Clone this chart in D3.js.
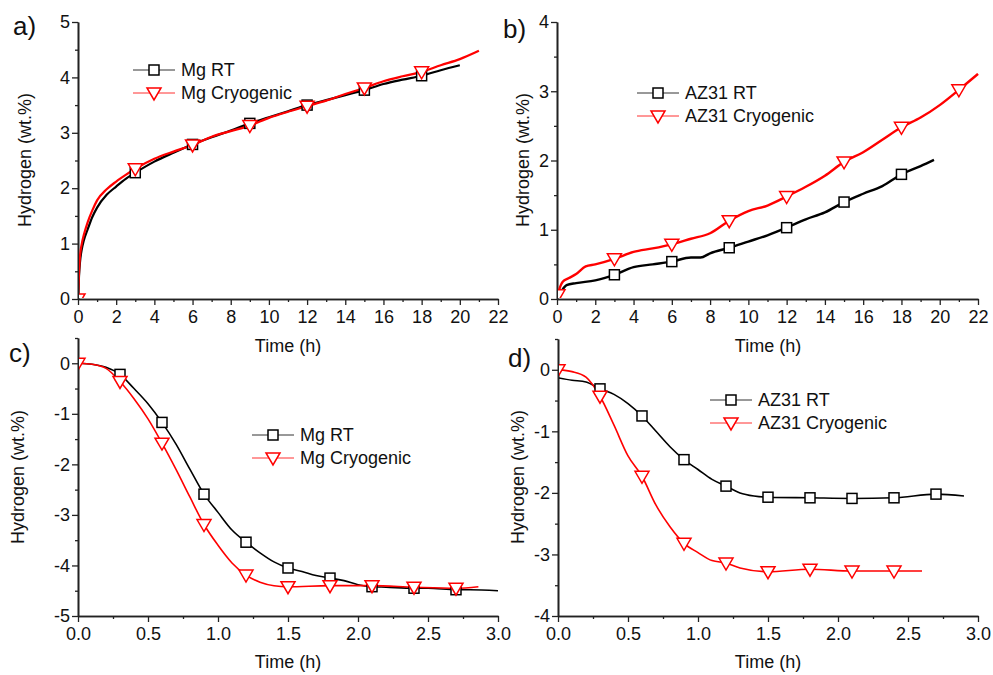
<!DOCTYPE html>
<html>
<head>
<meta charset="utf-8">
<script src="https://cdn.jsdelivr.net/npm/d3@7"></script>
<style>
  body { margin: 0; background: #fff; }
  svg { font-family: "Liberation Sans", Arial, sans-serif; }
</style>
</head>
<body>
<div id="chart"></div>
<script>
// ---- data ----
// a) Mg absorption
const aTime  = [0, 0.05, 0.1, 0.2, 0.3, 0.5, 0.75, 1, 1.5, 2, 2.5, 3, 4, 5, 6, 7, 8, 9, 10, 11, 12, 13, 14, 15, 16, 17, 18, 19, 20];
const aMgRT  = [0, 0.4, 0.65, 0.9, 1.05, 1.25, 1.48, 1.65, 1.88, 2.03, 2.17, 2.28, 2.48, 2.64, 2.79, 2.92, 3.04, 3.17, 3.28, 3.39, 3.5, 3.59, 3.68, 3.77, 3.88, 3.96, 4.03, 4.13, 4.22];
const aTimeCryo = [0, 0.05, 0.1, 0.2, 0.3, 0.5, 0.75, 1, 1.5, 2, 2.5, 3, 4, 5, 6, 7, 8, 9, 10, 11, 12, 13, 14, 15, 16, 17, 18, 19, 20, 21];
const aMgCryo = [0, 0.45, 0.75, 1.0, 1.15, 1.38, 1.6, 1.78, 1.98, 2.12, 2.24, 2.35, 2.53, 2.66, 2.78, 2.93, 3.03, 3.13, 3.27, 3.38, 3.48, 3.58, 3.7, 3.81, 3.93, 4.02, 4.1, 4.22, 4.33, 4.48];
const aMarkRT = [3, 6, 9, 12, 15, 18];
const aMarkCryo = [0, 3, 6, 9, 12, 15, 18];

// b) AZ31 absorption
const bTime = [0, 0.1, 0.2, 0.5, 1, 2, 3, 4, 5, 6, 7, 7.5, 8, 9, 10, 11, 12, 13, 14, 15, 16, 17, 18, 19, 19.7];
const bAzRT = [0, 0.06, 0.1, 0.2, 0.23, 0.27, 0.35, 0.46, 0.5, 0.54, 0.6, 0.6, 0.66, 0.74, 0.83, 0.92, 1.03, 1.15, 1.25, 1.4, 1.52, 1.63, 1.8, 1.92, 2.01];
const bTimeCryo = [0, 0.1, 0.3, 0.6, 1, 1.5, 2, 3, 4, 5, 6, 7, 8, 9, 10, 11, 12, 13, 14, 15, 16, 17, 18, 19, 20, 21, 22];
const bAzCryo = [0, 0.12, 0.25, 0.3, 0.36, 0.47, 0.5, 0.58, 0.68, 0.73, 0.79, 0.87, 0.95, 1.13, 1.27, 1.35, 1.48, 1.62, 1.78, 1.98, 2.12, 2.3, 2.48, 2.62, 2.8, 3.02, 3.25];
const bMarkRT = [3, 6, 9, 12, 15, 18];
const bMarkCryo = [0.05, 3, 6, 9, 12, 15, 18, 21];

// c) Mg desorption
const cTime  = [0, 0.1, 0.2, 0.3, 0.4, 0.5, 0.6, 0.7, 0.8, 0.9, 1.0, 1.1, 1.2, 1.3, 1.4, 1.5, 1.6, 1.7, 1.8, 1.9, 2.0, 2.1, 2.2, 2.4, 2.5, 2.7, 2.8, 3.0];
const cMgRT  = [0, -0.02, -0.08, -0.22, -0.5, -0.8, -1.17, -1.6, -2.1, -2.59, -2.95, -3.3, -3.54, -3.75, -3.93, -4.05, -4.12, -4.2, -4.25, -4.3, -4.38, -4.42, -4.43, -4.45, -4.45, -4.48, -4.48, -4.5];
const cTimeCryo = [0, 0.1, 0.2, 0.3, 0.4, 0.5, 0.6, 0.7, 0.8, 0.9, 1.0, 1.1, 1.2, 1.3, 1.4, 1.5, 1.8, 2.1, 2.4, 2.7, 2.86];
const cMgCryo = [0, -0.02, -0.1, -0.36, -0.7, -1.1, -1.58, -2.1, -2.65, -3.19, -3.6, -3.95, -4.19, -4.33, -4.4, -4.42, -4.4, -4.4, -4.43, -4.45, -4.42];
const cMarks = [0, 0.3, 0.6, 0.9, 1.2, 1.5, 1.8, 2.1, 2.4, 2.7];

// d) AZ31 desorption
const dTime  = [0, 0.1, 0.2, 0.3, 0.4, 0.5, 0.6, 0.7, 0.8, 0.9, 1.0, 1.1, 1.2, 1.3, 1.4, 1.5, 1.8, 2.1, 2.4, 2.7, 2.9];
const dAzRT  = [-0.13, -0.17, -0.2, -0.31, -0.4, -0.55, -0.75, -1.0, -1.25, -1.46, -1.62, -1.78, -1.89, -2.0, -2.05, -2.07, -2.08, -2.09, -2.08, -2.02, -2.05];
const dTimeCryo = [0, 0.1, 0.2, 0.3, 0.4, 0.5, 0.6, 0.7, 0.8, 0.9, 1.0, 1.1, 1.2, 1.3, 1.5, 1.8, 2.1, 2.4, 2.6];
const dAzCryo = [0, -0.03, -0.12, -0.43, -0.9, -1.4, -1.73, -2.2, -2.55, -2.82, -2.97, -3.1, -3.14, -3.22, -3.28, -3.24, -3.27, -3.27, -3.27];
const dMarkRT = [0.3, 0.6, 0.9, 1.2, 1.5, 1.8, 2.1, 2.4, 2.7];
const dMarkCryo = [0, 0.3, 0.6, 0.9, 1.2, 1.5, 1.8, 2.1, 2.4];

// ---- layout ----
const W = 993, H = 675;
const svg = d3.select('#chart').append('svg')
    .attr('width', W).attr('height', H);

const axisColor = '#222';

const zip = (xs, ys) => xs.map((x, i) => [x, ys[i]]);
// value of a series at a marker time (piecewise linear on the read points)
const valueAt = (pts, t) => {
    for (let i = 1; i < pts.length; i++) {
        if (t <= pts[i][0]) {
            const [x0, y0] = pts[i - 1], [x1, y1] = pts[i];
            return y0 + (y1 - y0) * (t - x0) / (x1 - x0);
        }
    }
    return pts[pts.length - 1][1];
};

const panels = [
    {
        label: 'a)', labelPos: [13, 35],
        xr: [78, 498], yr: [299, 22], xd: [0, 22], yd: [0, 5],
        xMajor: d3.range(0, 23, 2), xMinor: d3.range(1, 22, 2),
        yMajor: d3.range(0, 6, 1), yMinor: d3.range(0.5, 5, 1), xFmt: d3.format('d'), yFmt: d3.format('d'),
        yTitle: [25, 160], xTitle: [288, 352],
        legend: { x: 133, y: 70, names: ['Mg RT', 'Mg Cryogenic'] },
        rt: zip(aTime, aMgRT), cryo: zip(aTimeCryo, aMgCryo), mRT: aMarkRT, mCryo: aMarkCryo, width: 2.2
    },
    {
        label: 'b)', labelPos: [503, 38],
        xr: [557, 978], yr: [299, 22], xd: [0, 22], yd: [0, 4],
        xMajor: d3.range(0, 23, 2), xMinor: d3.range(1, 22, 2),
        yMajor: d3.range(0, 5, 1), yMinor: d3.range(0.5, 4, 1), xFmt: d3.format('d'), yFmt: d3.format('d'),
        yTitle: [523, 160], xTitle: [768, 352],
        legend: { x: 637, y: 93, names: ['AZ31 RT', 'AZ31 Cryogenic'] },
        rt: zip(bTime, bAzRT), cryo: zip(bTimeCryo, bAzCryo), mRT: bMarkRT, mCryo: bMarkCryo, width: 2.4
    },
    {
        label: 'c)', labelPos: [9, 362],
        xr: [78, 498], yr: [616, 338], xd: [0, 3], yd: [-5, 0.5],
        xMajor: d3.range(0, 3.01, 0.5), xMinor: d3.range(0.25, 3, 0.5),
        yMajor: d3.range(-5, 0.01, 1), yMinor: d3.range(-4.5, 0.6, 1), xFmt: d3.format('.1f'), yFmt: d3.format('d'),
        yTitle: [18, 477], xTitle: [288, 668],
        legend: { x: 252, y: 435, names: ['Mg RT', 'Mg Cryogenic'] },
        rt: zip(cTime, cMgRT), cryo: zip(cTimeCryo, cMgCryo), mRT: cMarks.slice(1), mCryo: cMarks, width: 1.6
    },
    {
        label: 'd)', labelPos: [508, 367],
        xr: [558, 978], yr: [616, 339], xd: [0, 3], yd: [-4, 0.5],
        xMajor: d3.range(0, 3.01, 0.5), xMinor: d3.range(0.25, 3, 0.5),
        yMajor: d3.range(-4, 0.01, 1), yMinor: d3.range(-3.5, 0.6, 1), xFmt: d3.format('.1f'), yFmt: d3.format('d'),
        yTitle: [518, 477], xTitle: [768, 668],
        legend: { x: 710, y: 400, names: ['AZ31 RT', 'AZ31 Cryogenic'] },
        rt: zip(dTime, dAzRT), cryo: zip(dTimeCryo, dAzCryo), mRT: dMarkRT, mCryo: dMarkCryo, width: 1.6
    }
];

const fmtMinus = f => d => f(d).replace('\u2212', '-');

const square = (g, x, y) => g.append('rect')
    .attr('x', x - 5).attr('y', y - 5).attr('width', 10).attr('height', 10)
    .attr('fill', '#fff').attr('stroke', '#000').attr('stroke-width', 1.5);
const triangle = (g, x, y) => g.append('path')
    .attr('d', `M${x - 7},${y - 5}L${x + 7},${y - 5}L${x},${y + 7}Z`)
    .attr('fill', '#fff').attr('stroke', '#ff0000').attr('stroke-width', 1.5);

panels.forEach((p, k) => {
    const x = d3.scaleLinear().domain(p.xd).range(p.xr);
    const y = d3.scaleLinear().domain(p.yd).range(p.yr);
    const g = svg.append('g');

    // plot area clip
    svg.append('clipPath').attr('id', 'clip' + k)
        .append('rect').attr('x', p.xr[0] + 1).attr('y', p.yr[1] - 10)
        .attr('width', p.xr[1] - p.xr[0] + 10).attr('height', p.yr[0] - p.yr[1] + 9);

    // axes
    const xAxis = g.append('g').attr('transform', `translate(0,${p.yr[0]})`)
        .call(d3.axisBottom(x).tickValues(p.xMajor).tickFormat(fmtMinus(p.xFmt)).tickSize(6).tickSizeOuter(0));
    g.append('g').attr('transform', `translate(0,${p.yr[0]})`)
        .call(d3.axisBottom(x).tickValues(p.xMinor).tickFormat('').tickSize(3).tickSizeOuter(0));
    const yAxis = g.append('g').attr('transform', `translate(${p.xr[0]},0)`)
        .call(d3.axisLeft(y).tickValues(p.yMajor).tickFormat(fmtMinus(p.yFmt)).tickSize(6).tickSizeOuter(0));
    g.append('g').attr('transform', `translate(${p.xr[0]},0)`)
        .call(d3.axisLeft(y).tickValues(p.yMinor).tickFormat('').tickSize(3).tickSizeOuter(0));

    g.selectAll('.domain').attr('stroke', axisColor).attr('stroke-width', 1.6);
    g.selectAll('.tick line').attr('stroke', axisColor).attr('stroke-width', 1.3);
    g.selectAll('.tick text').attr('fill', '#111').style('font-size', '18px');
    xAxis.selectAll('.tick text').attr('dy', '0.85em');
    yAxis.selectAll('.tick text').attr('x', -8);

    // titles
    g.append('text').attr('x', p.xTitle[0]).attr('y', p.xTitle[1])
        .attr('text-anchor', 'middle').style('font-size', '18px').attr('fill', '#111')
        .text('Time (h)');
    g.append('text')
        .attr('transform', `translate(${p.yTitle[0]},${p.yTitle[1]}) rotate(-90)`)
        .attr('text-anchor', 'middle').attr('dy', '0.35em')
        .style('font-size', '18px').attr('fill', '#111')
        .text('Hydrogen (wt.%)');
    g.append('text').attr('x', p.labelPos[0]).attr('y', p.labelPos[1])
        .style('font-size', '26px').attr('fill', '#111').text(p.label);

    // curves and markers, clipped to the plot area
    const plot = g.append('g').attr('clip-path', `url(#clip${k})`);
    const line = d3.line().x(d => x(d[0])).y(d => y(d[1])).curve(d3.curveMonotoneX);
    plot.append('path').datum(p.rt).attr('d', line)
        .attr('fill', 'none').attr('stroke', '#000').attr('stroke-width', p.width);
    plot.append('path').datum(p.cryo).attr('d', line)
        .attr('fill', 'none').attr('stroke', '#ff0000').attr('stroke-width', p.width);

    p.mRT.forEach(t => square(plot, x(t), y(valueAt(p.rt, t))));
    p.mCryo.forEach(t => triangle(plot, x(t), y(valueAt(p.cryo, t))));

    // legend
    const L = p.legend;
    const lg = g.append('g');
    lg.append('line').attr('x1', L.x).attr('x2', L.x + 42).attr('y1', L.y).attr('y2', L.y)
        .attr('stroke', '#333').attr('stroke-width', 1);
    square(lg, L.x + 21, L.y);
    lg.append('line').attr('x1', L.x).attr('x2', L.x + 42).attr('y1', L.y + 23).attr('y2', L.y + 23)
        .attr('stroke', '#ff3030').attr('stroke-width', 1);
    triangle(lg, L.x + 21, L.y + 23);
    L.names.forEach((n, i) => {
        lg.append('text').attr('x', L.x + 48).attr('y', L.y + i * 23).attr('dy', '0.36em')
            .style('font-size', '18px').attr('fill', '#111').text(n);
    });
});
</script>
</body>
</html>
